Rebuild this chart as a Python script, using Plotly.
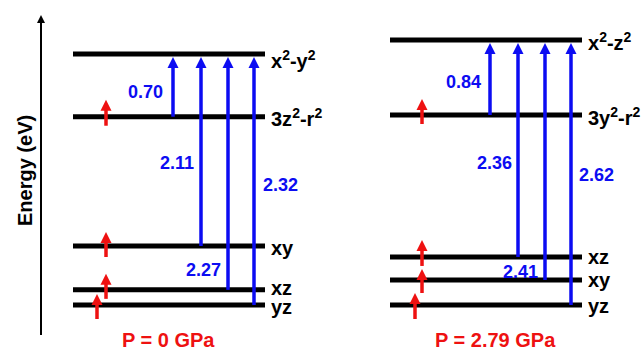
import plotly.graph_objects as go

# ---------------- data ----------------
pressures = ["0", "2.79"]                      # GPa
orbitals_0 = ["yz", "xz", "xy", "3z<sup>2</sup>-r<sup>2</sup>", "x<sup>2</sup>-y<sup>2</sup>"]
levels_0 = [0.0, 0.14, 0.545, 1.74, 2.32]      # schematic level heights
orbitals_1 = ["yz", "xy", "xz", "3y<sup>2</sup>-r<sup>2</sup>", "x<sup>2</sup>-z<sup>2</sup>"]
levels_1 = [0.0, 0.231, 0.444, 1.756, 2.449]
excitations_0 = ["0.70", "2.11", "2.27", "2.32"]   # eV, to the top level
excitations_1 = ["0.84", "2.36", "2.41", "2.62"]
from_level = [3, 2, 1, 0]                          # origin level of each excitation

panels = [
    dict(orb=orbitals_0, lev=levels_0, exc=excitations_0, p=pressures[0]),
    dict(orb=orbitals_1, lev=levels_1, exc=excitations_1, p=pressures[1]),
]

# ---------------- styling / layout constants ----------------
W, H = 643, 354
PX = 108.2                    # pixels per schematic unit
Y0 = 305                      # pixel row of the zero level
YMIN, YMAX = (Y0 - H) / PX, Y0 / PX
BLUE = "#0c0cf2"
RED = "#ee1111"
FONT = "Liberation Sans, Arial, sans-serif"

panel_x0 = [73, 390]
level_w = 192
arrow_dx = [100, 128, 155, 181]
title_x = [168, 495]
# value label placement: (y in schematic units, side)
label_pos = [
    [(1.969, "L", 8), (1.312, "L", 5), (0.323, "L", 5), (1.109, "R", 7)],
    [(2.061, "L", 7), (1.312, "L", 4), (0.305, "L", 5), (1.201, "R", 6)],
]
# red spin arrows per level (x offset, tip px above, tail px below)
spin = [
    [(24, 11, 14), (33, 16, 9), (33, 14, 11), (33, 17, 9)],
    [(25, 12, 14), (32, 11, 13), (32, 17, 9), (32, 16, 9)],
]
level_label_dy = [[-2, 2, -2, -1, -6], [-1, 0, 0, -1, -1]]


def px(d):
    return d / PX


fig = go.Figure()
ann = []


def arrow(x, y0, y1, color, width, head):
    # shaft
    fig.add_trace(go.Scatter(x=[x, x], y=[y0, y1 - px(head * 0.6)], mode="lines",
                             line=dict(color=color, width=width),
                             hoverinfo="skip", showlegend=False))
    # head (tip at y1)
    fig.add_trace(go.Scatter(x=[x], y=[y1], mode="markers",
                             marker=dict(symbol="arrow-up", size=head, color=color,
                                         line=dict(width=0)),
                             hoverinfo="skip", showlegend=False))


# energy axis
arrow(41, px(Y0 - 335), px(Y0 - 15), "black", 2, 8)
ann.append(dict(x=25, y=px(Y0 - 171), text="<b>Energy (eV)</b>", textangle=-90,
                showarrow=False, font=dict(family=FONT, size=20, color="black"),
                xanchor="center", yanchor="middle"))

for k, pnl in enumerate(panels):
    x0 = panel_x0[k]
    lev = pnl["lev"]
    # levels
    for i, (e, name) in enumerate(zip(lev, pnl["orb"])):
        fig.add_trace(go.Scatter(x=[x0, x0 + level_w], y=[e, e], mode="lines",
                                 line=dict(color="black", width=5),
                                 hoverinfo="skip", showlegend=False))
        ann.append(dict(x=x0 + level_w + 4, y=e + px(level_label_dy[k][i]),
                        text="<b>%s</b>" % name, showarrow=False,
                        font=dict(family=FONT, size=20, color="black"),
                        xanchor="left", yanchor="middle"))
    # spin arrows
    for i in range(4):
        dx, up, down = spin[k][i]
        arrow(x0 + dx, lev[i] - px(down), lev[i] + px(up), RED, 3.5, 11)
    # excitations
    top = lev[-1]
    for j, val in enumerate(pnl["exc"]):
        xa = x0 + arrow_dx[j]
        arrow(xa, lev[from_level[j]], top - px(3), BLUE, 3.5, 11)
        ly, side, gap = label_pos[k][j]
        ann.append(dict(x=xa - gap if side == "L" else xa + gap, y=ly,
                        text="<b>%s</b>" % val, showarrow=False,
                        font=dict(family=FONT, size=18, color=BLUE),
                        xanchor="right" if side == "L" else "left", yanchor="middle"))
    ann.append(dict(x=title_x[k], y=px(Y0 - 340), text="<b>P = %s GPa</b>" % pnl["p"],
                    showarrow=False, font=dict(family=FONT, size=20, color=RED),
                    xanchor="center", yanchor="middle"))

fig.update_layout(
    width=W, height=H, margin=dict(l=0, r=0, t=0, b=0),
    paper_bgcolor="white", plot_bgcolor="white",
    xaxis=dict(range=[0, W], visible=False, fixedrange=True),
    yaxis=dict(range=[YMIN, YMAX], visible=False, fixedrange=True),
    annotations=ann, showlegend=False,
)
fig.write_html("out.html", config=dict(displayModeBar=False))
